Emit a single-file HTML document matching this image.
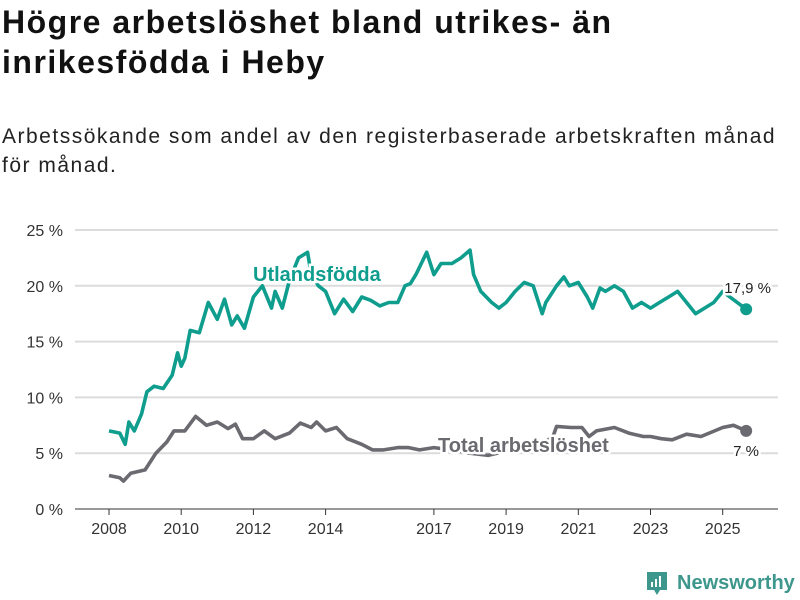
<!DOCTYPE html>
<html><head><meta charset="utf-8">
<style>
body{margin:0;width:800px;height:600px;background:#fff;font-family:"Liberation Sans",sans-serif;overflow:hidden;position:relative}
h1{position:absolute;left:2px;top:2px;margin:0;font-size:32px;line-height:40px;font-weight:bold;color:#111;width:798px;letter-spacing:1.5px}
.sub{position:absolute;left:2px;top:122px;margin:0;font-size:21px;line-height:29px;color:#222;width:798px;letter-spacing:1.5px}
svg{position:absolute;left:0;top:0}
</style></head><body>
<h1>Högre arbetslöshet bland utrikes- än<br>inrikesfödda i Heby</h1>
<p class="sub">Arbetssökande som andel av den registerbaserade arbetskraften månad<br>för månad.</p>
<svg id="chart" width="800" height="600"></svg>
<script>
const yTicks=[0,5,10,15,20,25];
const xTicks=[2008,2010,2012,2014,2017,2019,2021,2023,2025];
const utlX=[2008,2008.3,2008.45,2008.55,2008.7,2008.9,2009.05,2009.25,2009.5,2009.75,2009.9,2010.0,2010.1,2010.25,2010.5,2010.75,2011.0,2011.2,2011.4,2011.55,2011.75,2012.0,2012.25,2012.5,2012.6,2012.8,2013.0,2013.25,2013.5,2013.6,2013.8,2014.0,2014.25,2014.5,2014.75,2015.0,2015.25,2015.5,2015.75,2016.0,2016.2,2016.35,2016.5,2016.8,2017.0,2017.2,2017.5,2017.75,2018.0,2018.1,2018.3,2018.6,2018.8,2019.0,2019.25,2019.5,2019.75,2020.0,2020.1,2020.4,2020.6,2020.75,2021.0,2021.25,2021.4,2021.6,2021.75,2022.0,2022.25,2022.5,2022.75,2023.0,2023.25,2023.5,2023.75,2024.0,2024.25,2024.5,2024.75,2025.0,2025.2,2025.65];
const utlY=[7.0,6.8,5.8,7.8,7.0,8.5,10.5,11.0,10.8,12.0,14.0,12.8,13.5,16.0,15.8,18.5,17.0,18.8,16.5,17.3,16.2,19.0,20.0,18.0,19.5,18.0,20.5,22.5,23.0,21.0,20.0,19.5,17.5,18.8,17.7,19.0,18.7,18.2,18.5,18.5,20.0,20.2,21.0,23.0,21.0,22.0,22.0,22.5,23.2,21.0,19.5,18.5,18.0,18.5,19.5,20.3,20.0,17.5,18.5,20.0,20.8,20.0,20.3,19.0,18.0,19.8,19.5,20.0,19.5,18.0,18.5,18.0,18.5,19.0,19.5,18.5,17.5,18.0,18.5,19.5,19.0,17.9];
const totX=[2008,2008.3,2008.4,2008.6,2009.0,2009.3,2009.6,2009.8,2010.1,2010.4,2010.7,2011.0,2011.3,2011.5,2011.7,2012.0,2012.3,2012.6,2013.0,2013.3,2013.6,2013.75,2014.0,2014.3,2014.6,2015.0,2015.3,2015.6,2016.0,2016.3,2016.6,2017.0,2017.5,2018.0,2018.5,2019.0,2019.5,2020.0,2020.3,2020.4,2020.8,2021.1,2021.3,2021.5,2022.0,2022.4,2022.8,2023.0,2023.3,2023.6,2024.0,2024.4,2024.7,2025.0,2025.3,2025.65];
const totY=[3.0,2.8,2.5,3.2,3.5,5.0,6.0,7.0,7.0,8.3,7.5,7.8,7.2,7.6,6.3,6.3,7.0,6.3,6.8,7.7,7.3,7.8,7.0,7.3,6.3,5.8,5.3,5.3,5.5,5.5,5.3,5.5,5.3,5.0,4.8,5.2,5.5,5.8,6.5,7.4,7.3,7.3,6.5,7.0,7.3,6.8,6.5,6.5,6.3,6.2,6.7,6.5,6.9,7.3,7.5,7.0];
const NS="http://www.w3.org/2000/svg";
const svg=document.getElementById('chart');
const X=v=>109+(v-2008)*36.1;
const Y=v=>509-v*11.16;
function el(t,a){const e=document.createElementNS(NS,t);for(const k in a)e.setAttribute(k,a[k]);svg.appendChild(e);return e;}
yTicks.forEach(t=>{
 const g=el('line',{x1:75,x2:778,y1:Y(t),y2:Y(t),stroke:t===0?'#333':'#dcdcdc','stroke-width':t===0?1:2});
 
 
 const l=el('text',{x:63,y:Y(t)+6,'text-anchor':'end','font-size':16,fill:'#333'});
 l.textContent=t+' %';
 
 
});
xTicks.forEach(t=>{
 const k=el('line',{x1:X(t),x2:X(t),y1:509,y2:515,stroke:'#333'});
 
 
 const l=el('text',{x:X(t),y:534,'text-anchor':'middle','font-size':16,fill:'#333'});
 l.textContent=t;
 
 
});
function line(xs,ys,c,name){
 const p=el('path',{d:xs.map((x,i)=>(i?'L':'M')+X(x).toFixed(1)+','+Y(ys[i]).toFixed(1)).join(''),fill:'none',stroke:c,'stroke-width':3.6,'stroke-linejoin':'round'});
 
 
 const d=el('circle',{cx:X(xs[xs.length-1]),cy:Y(ys[ys.length-1]),r:6,fill:c});
 
 
}
line(totX,totY,'#6b6a70','total-line');
line(utlX,utlY,'#0f9d8e','utlandsfodda-line');
function label(txt,x,y,c,size,w,anchor,name){
 const t=el('text',{x:x,y:y,'font-size':size,'font-weight':w,fill:c,stroke:'#fff','stroke-width':5,'paint-order':'stroke','text-anchor':anchor});
 t.textContent=txt;
 
 
}
label('Utlandsfödda',253,281,'#0f9d8e',20,'bold','start','utlandsfodda-label');
label('Total arbetslöshet',438,452,'#6b6a70',20,'bold','start','total-label');
label('17,9 %',771,293,'#222',15,'normal','end','utlandsfodda-value');
label('7 %',759,456,'#222',15,'normal','end','total-value');
</script>
<div style="position:absolute;left:645px;top:570px;display:flex;align-items:center">
<svg width="24" height="26" style="position:static"><path d="M2 2h20v18h-7l-3 5-3-5H2z" fill="#3d978c"/><rect x="6" y="12" width="2" height="5" fill="#fff"/><rect x="10" y="9" width="2" height="8" fill="#fff"/><rect x="14" y="6" width="2" height="11" fill="#fff"/></svg>
<span style="font-size:20px;font-weight:bold;color:#3d978c;margin-left:8px">Newsworthy</span></div>
</body></html>
